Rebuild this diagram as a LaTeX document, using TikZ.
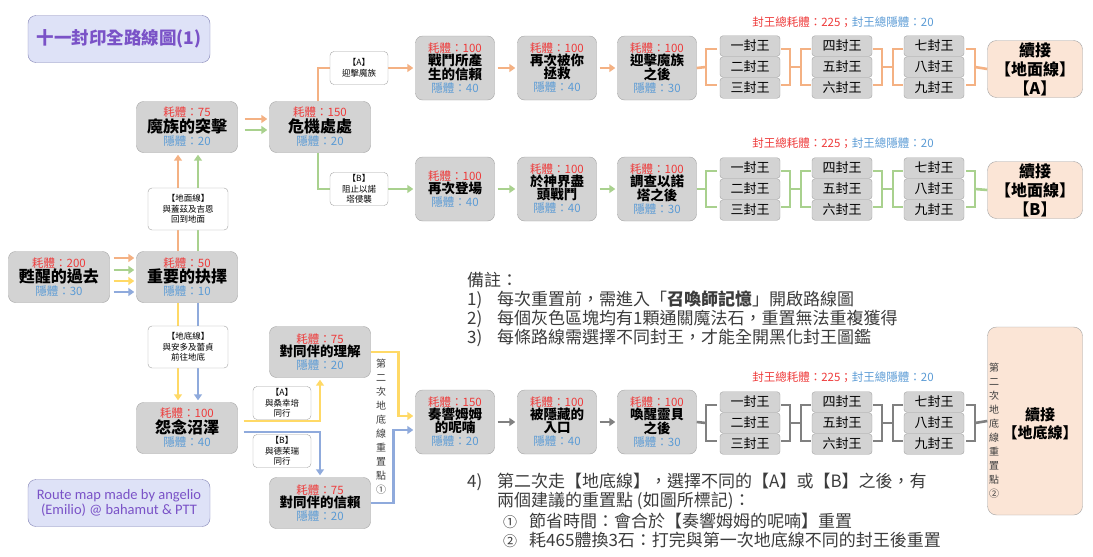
\documentclass[tikz,border=0pt]{standalone}
\usepackage{fontspec}
\setmainfont{Noto Sans CJK TC}
\newfontfamily\creditfont{Carlito}
\usepackage{tikz}
\usetikzlibrary{positioning, arrows.meta}

\definecolor{costred}{HTML}{EE3B3B}
\definecolor{gainblue}{HTML}{5B9BD5}
\definecolor{boxgray}{HTML}{D3D3D3}
\definecolor{edgegray}{HTML}{A3A3A3}
\definecolor{lineorange}{HTML}{F4B183}
\definecolor{linegreen}{HTML}{A9D18E}
\definecolor{lineyellow}{HTML}{FFD966}
\definecolor{lineblue}{HTML}{8FAADC}
\definecolor{linegray}{HTML}{808080}
\definecolor{titlefill}{HTML}{DEE2F7}
\definecolor{titlepurple}{HTML}{7A52C7}
\definecolor{peach}{HTML}{FBE5D6}
\definecolor{notegray}{HTML}{3C3C3C}

\newcommand{\costline}[1]{{\color{costred}耗體：#1}}
\newcommand{\gainline}[1]{{\color{gainblue}隱體：#1}}
\newcommand{\nm}[1]{{\fontsize{16}{18}\selectfont\bfseries #1}}
\newcommand{\nmm}[1]{{\fontsize{13.5}{15}\selectfont\bfseries #1}}

\begin{document}
\begin{tikzpicture}[x=1pt, y=-1pt,
    stage/.style={draw=edgegray, fill=boxgray, rounded corners=7pt, minimum width=101pt,
      minimum height=51pt, inner sep=0pt, align=center, font=\fontsize{11.5}{13}\selectfont},
    stagetwo/.style={stage, minimum width=79pt, minimum height=64pt},
    king/.style={draw=edgegray, fill=boxgray, rounded corners=3pt, minimum width=60pt,
      minimum height=20.5pt, inner sep=0pt, font=\fontsize{13}{14}\selectfont},
    tag/.style={draw=edgegray, fill=white, rounded corners=4pt, align=center, inner sep=0pt,
      minimum width=58pt, minimum height=33pt, font=\fontsize{8.5}{10.5}\selectfont},
    bigtag/.style={tag, minimum width=80pt, minimum height=42pt},
    goon/.style={draw=edgegray, fill=peach, rounded corners=9pt, minimum width=95pt,
      minimum height=57pt, inner sep=0pt, align=center, font=\fontsize{16}{19}\selectfont\bfseries},
    banner/.style={draw=edgegray!80!blue, fill=titlefill, rounded corners=8pt,
      minimum width=182pt, minimum height=47pt, align=center, text=titlepurple},
    note/.style={anchor=west, inner sep=0pt, text=notegray, font=\fontsize{17}{19}\selectfont},
    vtext/.style={inner sep=0pt, align=center, text=notegray, font=\fontsize{10}{14}\selectfont},
    total/.style={inner sep=0pt, font=\fontsize{11.5}{13}\selectfont},
    ln/.style={line width=2.6pt},
    arr/.style={ln, -{Triangle[length=6pt,width=8pt]}, shorten >=2pt}
  ]
  \useasboundingbox (0,0) rectangle (1093,557);

  % title and credit
  \node[banner, font=\fontsize{17.5}{20}\selectfont\bfseries] (title) at (119,39) {十一封印全路線圖(1)};
  \node[banner, font=\creditfont\fontsize{14.5}{14.5}\selectfont] (credit) at (119,503)
    {Route map made by angelio\\(Emilio) @ bahamut \& PTT};

  % stages
  \node[stage] (past)   at (59,277)  {\costline{200}\\\nm{甦醒的過去}\\\gainline{30}};
  \node[stage] (choice) at (187,277) {\costline{50}\\\nm{重要的抉擇}\\\gainline{10}};
  \node[stage] (raid)   at (187,127) {\costline{75}\\\nm{魔族的突擊}\\\gainline{20}};
  \node[stage] (crisis) at (320,127) {\costline{150}\\\nm{危機處處}\\\gainline{20}};
  \node[stage] (swamp)  at (187,428) {\costline{100}\\\nm{怨念沼澤}\\\gainline{40}};
  \node[stage] (underst) at (320,352) {\costline{75}\\\nmm{對同伴的理解}\\\gainline{20}};
  \node[stage] (trust)  at (320,503) {\costline{75}\\\nmm{對同伴的信賴}\\\gainline{20}};

  \node[stagetwo] (A1) at (455,68) {\costline{100}\\\nmm{戰鬥所產}\\\nmm{生的信賴}\\\gainline{40}};
  \node[stagetwo] (A2) at (557,68) {\costline{100}\\\nmm{再次被你}\\\nmm{拯救}\\\gainline{40}};
  \node[stagetwo] (A3) at (657,68) {\costline{100}\\\nmm{迎擊魔族}\\\nmm{之後}\\\gainline{30}};
  \node[stagetwo] (B1) at (455,189) {\costline{100}\\\nmm{再次登場}\\\gainline{40}};
  \node[stagetwo] (B2) at (557,189) {\costline{100}\\\nmm{於神界盡}\\\nmm{頭戰鬥}\\\gainline{40}};
  \node[stagetwo] (B3) at (657,189) {\costline{100}\\\nmm{調查以諾}\\\nmm{塔之後}\\\gainline{30}};
  \node[stagetwo] (C1) at (455,422) {\costline{150}\\\nmm{奏響姆姆}\\\nmm{的呢喃}\\\gainline{20}};
  \node[stagetwo] (C2) at (557,422) {\costline{100}\\\nmm{被隱藏的}\\\nmm{入口}\\\gainline{40}};
  \node[stagetwo] (C3) at (657,422) {\costline{100}\\\nmm{喚醒靈貝}\\\nmm{之後}\\\gainline{30}};

  \node[goon] (goA) at (1035,69)  {續接\\【地面線】\\【A】};
  \node[goon] (goB) at (1035,190) {續接\\【地面線】\\【B】};
  \node[goon, minimum height=188pt] (goC) at (1035,421) {};
  \node[goon, draw=none, fill=none, minimum height=0pt, minimum width=0pt,
    font=\fontsize{15}{18}\selectfont\bfseries] (goCtxt) at (1040,424) {續接\\【地底線】};
  \node[vtext] (vt2) at (994,431) {第\\二\\次\\地\\底\\線\\重\\置\\點\\②};

  \node[total] (totA) at (843,22)  {\color{costred}封王總耗體：225；\color{gainblue}封王總隱體：20};
  \node[total] (totB) at (843,143) {\color{costred}封王總耗體：225；\color{gainblue}封王總隱體：20};
  \node[total] (totC) at (843,377) {\color{costred}封王總耗體：225；\color{gainblue}封王總隱體：20};

  % seal kings and brackets
  \foreach \r/\yy/\cl in {A/67/lineorange, B/189/linegreen, C/423/linegray} {
    \foreach \n/\kx/\dy/\kt in {1/750/-21/一封王, 2/750/0/二封王, 3/750/21/三封王,
        4/842/-21/四封王, 5/842/0/五封王, 6/842/21/六封王,
        7/934/-21/七封王, 8/934/0/八封王, 9/934/21/九封王}
      \node[king] (k\r\n) at (\kx,\yy+\dy) {\kt};
    \draw[ln, \cl] (\r3.east) -- (706,\yy);
    \draw[ln, \cl] (717,\yy-18) -- (706,\yy-18) -- (706,\yy+18) -- (717,\yy+18);
    \draw[ln, \cl] (781,\yy-18) -- (790,\yy-18) -- (790,\yy+18) -- (781,\yy+18);
    \draw[ln, \cl] (790,\yy) -- (801,\yy);
    \draw[ln, \cl] (811,\yy-18) -- (801,\yy-18) -- (801,\yy+18) -- (811,\yy+18);
    \draw[ln, \cl] (873,\yy-18) -- (882,\yy-18) -- (882,\yy+18) -- (873,\yy+18);
    \draw[ln, \cl] (882,\yy) -- (893,\yy);
    \draw[ln, \cl] (903,\yy-18) -- (893,\yy-18) -- (893,\yy+18) -- (903,\yy+18);
    \draw[ln, \cl] (966,\yy-18) -- (975,\yy-18) -- (975,\yy+18) -- (966,\yy+18);
    \draw[ln, \cl] (975,\yy) -- (go\r.west);
  }

  % routes
  \foreach \dy/\cl in {19/lineorange, 7/linegreen, -4/lineyellow, -15/lineblue}
    \draw[arr, \cl, shorten <=4pt] ([yshift=\dy]past.east) -- ([yshift=\dy]choice.west);
  \draw[arr, lineorange] ([xshift=-9]choice.north) -- ([xshift=-9]raid.south);
  \draw[arr, linegreen]  ([xshift=11]choice.north) -- ([xshift=11]raid.south);
  \draw[arr, lineyellow] ([xshift=-9]choice.south) -- ([xshift=-9]swamp.north);
  \draw[arr, lineblue]   ([xshift=11]choice.south) -- ([xshift=11]swamp.north);
  \draw[arr, lineorange, shorten <=7pt] ([yshift=8]raid.east) -- ([yshift=8]crisis.west);
  \draw[arr, linegreen, shorten <=7pt] ([yshift=-3]raid.east) -- ([yshift=-3]crisis.west);
  \draw[arr, lineorange] ([xshift=-2]crisis.north) |- (A1.west);
  \draw[arr, linegreen]  ([xshift=-2]crisis.south) |- (B1.west);
  \draw[arr, lineorange, shorten <=3pt] (A1) -- (A2);
  \draw[arr, lineorange, shorten <=3pt] (A2) -- (A3);
  \draw[arr, linegreen, shorten <=3pt] (B1) -- (B2);
  \draw[arr, linegreen, shorten <=3pt] (B2) -- (B3);
  \draw[arr, linegray, shorten <=3pt] (C1) -- (C2);
  \draw[arr, linegray, shorten <=3pt] (C2) -- (C3);
  \draw[arr, lineyellow, shorten <=6pt] ([yshift=7]swamp.east) -| (underst.south);
  \draw[arr, lineblue, shorten <=6pt] ([yshift=-4]swamp.east) -| (trust.north);
  \draw[arr, lineyellow] (underst.east) -- ++(28,0) |- ([yshift=6]C1.west);
  \draw[arr, lineblue] (trust.east) -- ++(23,0) |- ([yshift=-8]C1.west);

  % route tags
  \node[bigtag] (upTag)   at (188,209) {【地面線】\\與蓋茲及吉恩\\回到地面};
  \node[bigtag] (downTag) at (188,347) {【地底線】\\與安多及蕾貞\\前往地底};
  \node[tag] (tagA)  at (359,68)  {【A】\\迎擊魔族};
  \node[tag] (tagB)  at (359,189) {【B】\\阻止以諾\\塔侵襲};
  \node[tag] (tagUA) at (282,403) {【A】\\與桑幸培\\同行};
  \node[tag] (tagUB) at (282,451) {【B】\\與德茉瑞\\同行};
  \node[vtext] (vt1) at (381,427) {第\\二\\次\\地\\底\\線\\重\\置\\點\\①};

  % notes
  \node[note] (note0) at (467,280) {備註：};
  \node[note] (note1) at (467,300) {\makebox[30pt][l]{1)}每次重置前，需進入「\textbf{召喚師記憶}」開啟路線圖};
  \node[note] (note2) at (467,319) {\makebox[30pt][l]{2)}每個灰色區塊均有1顆通關魔法石，重置無法重複獲得};
  \node[note] (note3) at (467,338) {\makebox[30pt][l]{3)}每條路線需選擇不同封王，才能全開黑化封王圖鑑};
  \node[note] (note4) at (467,482) {\makebox[30pt][l]{4)}第二次走【地底線】，選擇不同的【A】或【B】之後，有};
  \node[note] (note5) at (497,501) {兩個建議的重置點 (如圖所標記)：};
  \node[note] (note6) at (503,521) {\makebox[26pt][l]{\fontsize{14}{16}\selectfont ①}節省時間：會合於【奏響姆姆的呢喃】重置};
  \node[note] (note7) at (503,540) {\makebox[26pt][l]{\fontsize{14}{16}\selectfont ②}耗465體換3石：打完與第一次地底線不同的封王後重置};
\end{tikzpicture}
\end{document}
